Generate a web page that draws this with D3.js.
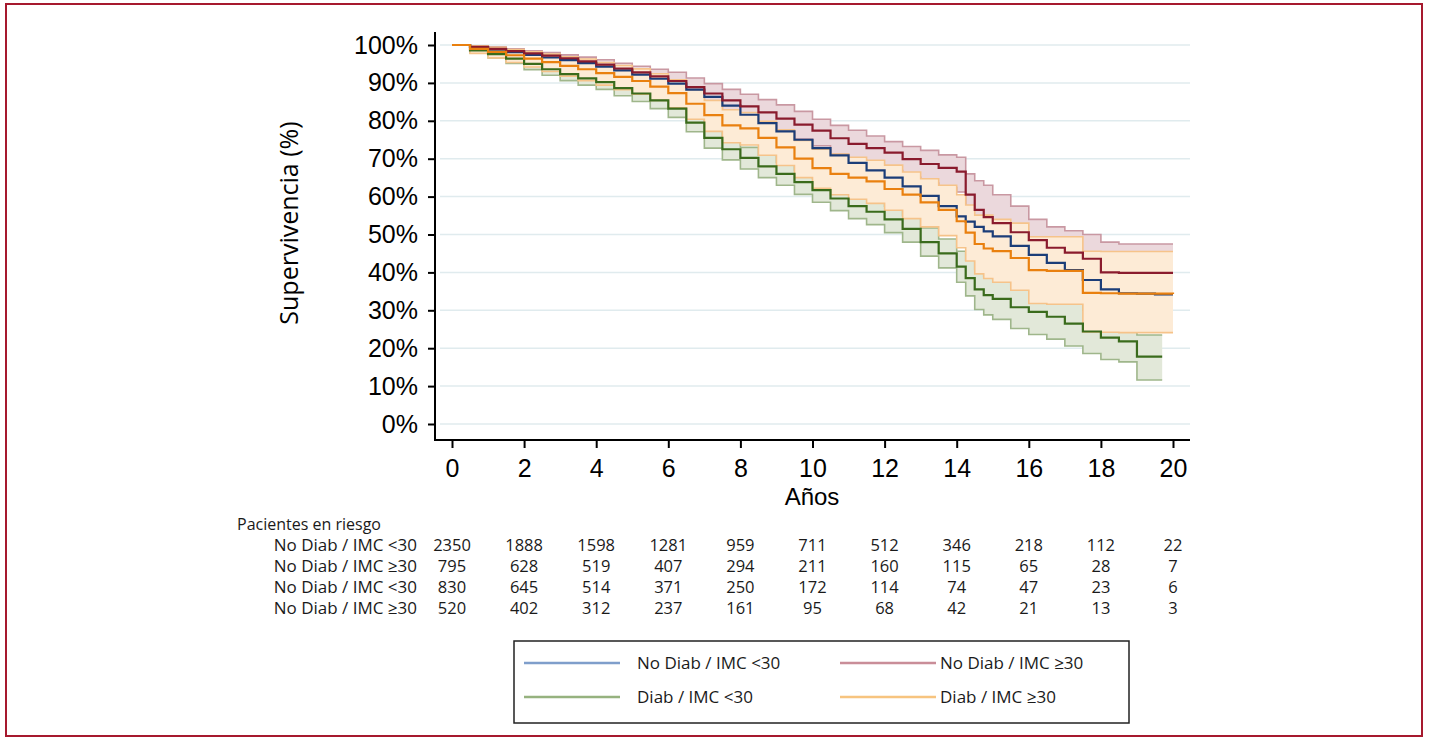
<!DOCTYPE html>
<html>
<head>
<meta charset="utf-8">
<script src="https://cdn.jsdelivr.net/npm/d3@7"></script>
<style>
  body { margin: 0; background: #fff; }
  svg text { font-family: "Open Sans", sans-serif; fill: #1a1a1a; }
  .axis text { font-family: "Liberation Sans", Arial, sans-serif; font-size: 25px; fill: #000; }
  .axis path, .axis line { stroke: #000; stroke-width: 2; }
</style>
</head>
<body>
<div id="container"></div>
<script>
const width = 1430,
  height = 741;

// years at which the curves were read (Kaplan-Meier, step after)
const years = [0, 0.5, 1, 1.5, 2, 2.5, 3, 3.5, 4, 4.5, 5, 5.5, 6, 6.5, 7, 7.5, 8, 8.5, 9, 9.5,
  10, 10.5, 11, 11.5, 12, 12.5, 13, 13.5, 14, 14.25, 14.5, 14.75, 15, 15.5, 16, 16.5, 17, 17.5,
  18, 18.5, 19, 19.5, 20];

const groups = ["No Diab / IMC <30", "No Diab / IMC ≥30", "Diab / IMC <30", "Diab / IMC ≥30"];
const lastYear = [20, 20, 19.7, 20];

// No Diab / IMC <30
const noDiabLow = [100, 99.4, 98.8, 98.1, 97.4, 96.7, 96.0, 95.2, 94.3, 93.3, 92.2, 91.1, 89.8, 88.2, 86.3, 84.0, 81.6, 79.4, 77.2, 75.0,
  72.8, 70.9, 68.9, 66.9, 65.0, 62.7, 60.2, 57.5, 54.8, 53.4, 52.0, 50.8, 49.5, 47.0, 44.6, 42.5, 40.6, 38.0,
  35.5, 34.5, 34.4, 34.2, 34.2];
const noDiabLowHi = [100, 99.6, 99.15, 98.6, 98.0, 97.4, 96.8, 96.1, 95.3, 94.4, 93.4, 92.35, 91.1, 89.6, 87.8, 85.55, 83.2, 81.1, 79.0, 76.9,
  74.8, 73.0, 71.05, 69.1, 67.3, 65.1, 62.7, 60.15, 57.6, 56.25, 54.9, 53.8, 52.5, 50.15, 47.9, 46.1, 44.5, 42.2,
  40.0, 39.3, 39.3, 39.3, 39.3];
const noDiabLowLo = [100, 99.2, 98.45, 97.6, 96.8, 96.0, 95.2, 94.3, 93.3, 92.2, 91.0, 89.85, 88.5, 86.8, 84.8, 82.45, 80.0, 77.7, 75.4, 73.1,
  70.8, 68.8, 66.75, 64.7, 62.7, 60.3, 57.7, 54.85, 52.0, 50.55, 49.1, 47.8, 46.5, 43.85, 41.3, 38.9, 36.7, 33.8,
  31.0, 29.7, 29.7, 29.7, 29.7];

// No Diab / IMC >=30
const noDiabHigh = [100, 99.5, 99.0, 98.4, 97.8, 97.2, 96.5, 95.7, 94.8, 93.8, 92.8, 91.7, 90.5, 88.9, 87.2, 85.4, 83.8, 82.2, 80.6, 79.0,
  77.4, 75.4, 73.9, 72.8, 71.6, 69.9, 68.6, 67.6, 66.6, 60.5, 56.5, 54.6, 53.0, 50.6, 48.5, 46.5, 45.2, 43.6,
  40.0, 39.9, 39.9, 39.9, 39.9];
const noDiabHighHi = [100, 99.8, 99.5, 99.0, 98.5, 98.0, 97.4, 96.8, 96.1, 95.2, 94.4, 93.6, 92.8, 91.3, 89.8, 88.3, 87.0, 85.6, 84.2, 82.5,
  80.4, 78.8, 77.5, 76.0, 74.5, 73.2, 72.2, 71.0, 70.4, 66.0, 64.2, 63.0, 60.5, 57.5, 54.0, 52.0, 51.0, 50.0,
  48.0, 47.5, 47.5, 47.5, 47.5];
const noDiabHighLo = [100, 99.0, 98.4, 97.7, 97.0, 96.2, 95.4, 94.4, 93.3, 92.2, 91.0, 89.7, 88.2, 86.4, 84.5, 82.4, 80.5, 78.7, 76.9, 75.2,
  73.4, 71.2, 69.6, 68.3, 66.9, 65.1, 63.6, 62.4, 61.2, 54.0, 50.0, 48.5, 46.5, 44.0, 42.0, 40.0, 38.6, 36.8,
  32.5, 32.3, 32.3, 32.3, 32.3];

// Diab / IMC <30
const diabLow = [100, 98.6, 97.6, 96.4, 95.0, 93.6, 92.3, 91.2, 90.2, 88.6, 87.2, 85.4, 83.2, 79.5, 75.5, 72.5, 70.2, 68.0, 66.0, 63.8,
  61.7, 59.5, 57.5, 56.0, 54.0, 51.5, 48.0, 45.0, 41.5, 38.5, 35.5, 34.0, 33.0, 30.8, 29.6, 28.3, 26.5, 24.4,
  22.8, 21.8, 17.8, 17.8, null];
const diabLowHi = [100, 99.2, 98.5, 97.6, 96.4, 95.2, 94.0, 93.0, 92.0, 90.5, 89.2, 87.5, 85.4, 81.9, 78.1, 75.2, 73.0, 70.9, 69.0, 66.9,
  64.9, 62.7, 60.8, 59.4, 57.5, 55.0, 51.7, 48.8, 45.6, 43.2, 40.8, 39.0, 38.3, 36.3, 35.5, 34.0, 32.3, 30.0,
  28.6, 27.6, 23.5, 23.5, null];
const diabLowLo = [100, 97.9, 96.6, 95.1, 93.5, 92.0, 90.6, 89.4, 88.3, 86.6, 85.1, 83.2, 80.9, 77.1, 72.8, 69.7, 67.3, 65.0, 63.0, 60.6,
  58.5, 56.3, 54.2, 52.6, 50.5, 48.0, 44.3, 41.2, 37.4, 33.8, 30.2, 28.8, 27.6, 25.2, 23.6, 22.4, 20.6, 18.6,
  17.0, 16.4, 11.6, 11.6, null];

// Diab / IMC >=30
const diabHigh = [100, 99.0, 98.2, 97.3, 96.4, 95.5, 94.5, 93.6, 92.6, 91.6, 90.5, 89.0, 87.3, 84.5, 81.5, 78.8, 78.0, 75.5, 73.0, 70.0,
  67.5, 66.0, 65.0, 64.0, 62.0, 60.5, 58.5, 56.5, 53.5, 50.5, 47.5, 46.3, 45.6, 43.8, 40.6, 40.4, 40.4, 34.6,
  34.5, 34.4, 34.4, 34.4, 34.3];
const diabHighHi = [100, 99.8, 99.4, 98.8, 98.2, 97.6, 96.9, 96.3, 95.4, 94.6, 93.7, 92.4, 90.8, 88.2, 85.4, 82.9, 82.2, 79.9, 77.6, 74.8,
  72.5, 71.2, 70.4, 69.6, 68.3, 66.5, 64.7, 63.0, 60.5, 57.8, 55.1, 55.1, 54.0, 53.0, 49.4, 49.4, 49.4, 45.6,
  45.5, 45.5, 45.5, 45.5, 45.5];
const diabHighLo = [100, 97.8, 96.6, 95.4, 94.2, 93.0, 91.8, 90.6, 89.4, 88.2, 87.0, 85.4, 83.4, 80.4, 77.2, 74.2, 73.6, 70.9, 68.2, 65.0,
  62.2, 60.5, 59.3, 58.2, 56.4, 54.2, 52.0, 49.7, 46.5, 43.0, 39.6, 38.4, 37.4, 35.3, 31.8, 31.6, 31.6, 24.3,
  24.2, 24.1, 24.1, 24.1, 24.1];

// risk table
const riskYears = [0, 2, 4, 6, 8, 10, 12, 14, 16, 18, 20];
const riskLabels = ["No Diab / IMC <30", "No Diab / IMC ≥30", "No Diab / IMC <30", "No Diab / IMC ≥30"];
const riskRow1 = [2350, 1888, 1598, 1281, 959, 711, 512, 346, 218, 112, 22];
const riskRow2 = [795, 628, 519, 407, 294, 211, 160, 115, 65, 28, 7];
const riskRow3 = [830, 645, 514, 371, 250, 172, 114, 74, 47, 23, 6];
const riskRow4 = [520, 402, 312, 237, 161, 95, 68, 42, 21, 13, 3];

const yTicks = [0, 10, 20, 30, 40, 50, 60, 70, 80, 90, 100];
const xTicks = [0, 2, 4, 6, 8, 10, 12, 14, 16, 18, 20];

const lineColors = ["#1b3d78", "#8a1b2d", "#3a6b1c", "#e9800f"];
const ciLineColors = ["#a9bedd", "#c998a2", "#9fb68b", "#f6c38a"];
const ciFillColors = ["#dde6f2", "#ebd8dc", "#e2e8d9", "#fdebd6"];
const legendColors = ["#7f9ecb", "#c98d98", "#96b27f", "#f7c47f"];

const series = [
  [noDiabLow, noDiabLowLo, noDiabLowHi],
  [noDiabHigh, noDiabHighLo, noDiabHighHi],
  [diabLow, diabLowLo, diabLowHi],
  [diabHigh, diabHighLo, diabHighHi]
].map(([est, lo, hi], g) => {
  const pts = years.map((t, i) => ({ t, v: est[i], lo: lo[i], hi: hi[i] })).filter(d => d.v != null);
  const last = pts[pts.length - 1];
  if (last.t < lastYear[g]) pts.push({ ...last, t: lastYear[g] });
  return pts;
});

const svg = d3.select("#container").append("svg")
  .attr("width", width)
  .attr("height", height);

// frame
svg.append("rect")
  .attr("x", 6).attr("y", 4)
  .attr("width", 1416).attr("height", 732)
  .attr("fill", "none")
  .attr("stroke", "#a6192e")
  .attr("stroke-width", 2);

/* SCALES */
const xScale = d3.scaleLinear().domain([0, 20]).range([452, 1173]);
const yScale = d3.scaleLinear().domain([0, 100]).range([424, 45]);

// grid
svg.append("g")
  .selectAll("line")
  .data(yTicks)
  .join("line")
  .attr("x1", 440).attr("x2", 1190)
  .attr("y1", d => yScale(d)).attr("y2", d => yScale(d))
  .attr("stroke", "#e0ebee")
  .attr("stroke-width", 1.5);

/* CI BANDS */
const area = d3.area()
  .x(d => xScale(d.t))
  .y0(d => yScale(d.lo))
  .y1(d => yScale(d.hi))
  .curve(d3.curveStepAfter);

const lineOf = key => d3.line()
  .x(d => xScale(d.t))
  .y(d => yScale(d[key]))
  .curve(d3.curveStepAfter);

series.forEach((pts, g) => {
  svg.append("path")
    .attr("d", area(pts))
    .attr("fill", ciFillColors[g]);
  ["lo", "hi"].forEach(k => {
    svg.append("path")
      .attr("d", lineOf(k)(pts))
      .attr("fill", "none")
      .attr("stroke", ciLineColors[g])
      .attr("stroke-width", 1.6);
  });
});

/* SURVIVAL LINES */
series.forEach((pts, g) => {
  svg.append("path")
    .attr("d", lineOf("v")(pts))
    .attr("fill", "none")
    .attr("stroke", lineColors[g])
    .attr("stroke-width", 2.2);
});

/* AXES */
svg.append("g")
  .attr("class", "axis")
  .attr("transform", "translate(435,0)")
  .call(d3.axisLeft(yScale).tickValues(yTicks).tickFormat(d => d + "%").tickSize(7).tickPadding(10).tickSizeOuter(0))
  .call(g => g.select(".domain").attr("d", "M0,32V440"));

svg.append("g")
  .attr("class", "axis")
  .attr("transform", "translate(0,440)")
  .call(d3.axisBottom(xScale).tickValues(xTicks).tickSize(8).tickPadding(11).tickSizeOuter(0))
  .call(g => g.select(".domain").attr("d", "M434,0H1190"));

svg.append("text")
  .attr("x", 812).attr("y", 505)
  .attr("text-anchor", "middle")
  .style("font-family", "'Liberation Sans', Arial, sans-serif")
  .style("font-size", "24px")
  .style("fill", "#000")
  .text("Años");

svg.append("text")
  .attr("transform", "translate(298,223) rotate(-90)")
  .attr("text-anchor", "middle")
  .style("font-size", "25px")
  .style("fill", "#000")
  .text("Supervivencia (%)");

/* RISK TABLE */
svg.append("text")
  .attr("x", 237).attr("y", 530)
  .style("font-size", "16px")
  .text("Pacientes en riesgo");

const rows = [riskRow1, riskRow2, riskRow3, riskRow4];
rows.forEach((row, r) => {
  const y = 551 + r * 21;
  svg.append("text")
    .attr("x", 417).attr("y", y)
    .attr("text-anchor", "end")
    .style("font-size", "17px")
    .text(riskLabels[r]);
  svg.append("g")
    .selectAll("text")
    .data(row)
    .join("text")
    .attr("x", (d, i) => xScale(riskYears[i]))
    .attr("y", y)
    .attr("text-anchor", "middle")
    .style("font-size", "16.5px")
    .text(d => d);
});

/* LEGEND */
const legend = svg.append("g").attr("transform", "translate(514,641)");
legend.append("rect")
  .attr("width", 615).attr("height", 82)
  .attr("fill", "#fff")
  .attr("stroke", "#222")
  .attr("stroke-width", 1.5);

const legendPos = [[10, 22], [326, 22], [10, 56], [326, 56]];
groups.forEach((name, g) => {
  const [lx, ly] = legendPos[g];
  legend.append("line")
    .attr("x1", lx).attr("x2", lx + 96)
    .attr("y1", ly).attr("y2", ly)
    .attr("stroke", legendColors[g])
    .attr("stroke-width", 2.5);
  legend.append("text")
    .attr("x", g % 2 === 0 ? lx + 113 : lx + 100)
    .attr("y", ly + 6)
    .style("font-size", "17px")
    .text(name);
});
</script>
</body>
</html>
